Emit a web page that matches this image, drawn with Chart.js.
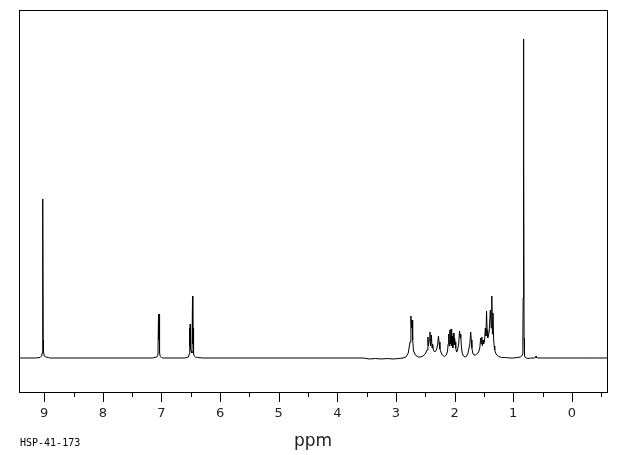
<!DOCTYPE html>
<html>
<head>
<meta charset="utf-8">
<script src="https://cdn.jsdelivr.net/npm/chart.js@4.4.0/dist/chart.umd.min.js"></script>
<style>
html,body{margin:0;padding:0;background:#fff;}
#wrap{width:620px;height:455px;position:relative;}
</style>
</head>
<body>
<div id="wrap"><canvas id="c" width="620" height="455"></canvas></div>
<script>
// chemical shift (ppm) of each trace vertex
const ppm = [
  9.43, 9.15, 9.07, 9.045, 9.035, 9.028, 9.022, 9.017, 9.012, 9.0, 8.97, 8.93, 8.9,
  7.15, 7.08, 7.06, 7.05, 7.045, 7.04, 7.035, 7.03, 7.02, 7.0, 6.97,
  6.6, 6.54, 6.525, 6.52, 6.515, 6.51, 6.505, 6.495, 6.48, 6.47, 6.465, 6.46, 6.455, 6.45, 6.44, 6.42, 6.38, 6.3,
  3.55, 3.45, 3.35, 3.25, 3.15, 3.05, 2.95, 2.88,
  2.83, 2.79, 2.76, 2.745, 2.735, 2.725, 2.715, 2.70, 2.67, 2.62, 2.58,
  2.54, 2.50, 2.47, 2.455, 2.445, 2.435, 2.42, 2.41, 2.395, 2.385, 2.375, 2.36, 2.34,
  2.31, 2.29, 2.275, 2.265, 2.25, 2.22, 2.19, 2.17,
  2.14, 2.12, 2.11, 2.10, 2.09, 2.08, 2.07, 2.06, 2.05, 2.04, 2.03, 2.02, 2.01, 2.00, 1.99, 1.98, 1.965,
  1.95, 1.93, 1.915, 1.905, 1.895, 1.885, 1.87, 1.85, 1.82, 1.80,
  1.77, 1.74, 1.725, 1.715, 1.705, 1.69, 1.67, 1.64, 1.62,
  1.59, 1.57, 1.555, 1.545, 1.535, 1.525, 1.515, 1.505, 1.49, 1.475, 1.465, 1.455, 1.445, 1.435, 1.425, 1.41,
  1.39, 1.375, 1.365, 1.355, 1.345, 1.335, 1.325, 1.315, 1.30, 1.28, 1.25, 1.2, 1.13, 1.07,
  1.0, 0.92, 0.88, 0.855, 0.84, 0.835, 0.83, 0.826, 0.822, 0.818, 0.814, 0.81, 0.805, 0.795, 0.78, 0.75, 0.7,
  0.64, 0.615, 0.61, 0.605, 0.58, 0.5, 0.3, 0.0, -0.3, -0.6
];
// signal intensity (arbitrary units, baseline = 0)
const intensity = [
  0, 0, 0.5, 2, 5, 20, 159, 18, 6, 2, 1, 0.5, 0,
  0, 1, 3, 44, 18, 44, 16, 5, 1.5, 0.5, 0,
  0, 1, 4, 30, 12, 34, 10, 7, 5, 62, 14, 30, 8, 4, 2, 1, 0.5, 0,
  0, -1, -0.5, -1, -0.5, -1, -0.5, 0,
  1, 5, 16, 42, 30, 38, 18, 7, 3, 1, 1,
  2, 4, 8, 21, 12, 18, 26, 12, 23, 10, 14, 8, 6,
  8, 13, 22, 16, 9, 4, 2, 1.5,
  3, 7, 14, 24, 12, 28, 14, 29, 12, 22, 10, 25, 13, 20, 16, 10, 6,
  8, 14, 27, 20, 24, 12, 5, 2, 1, 1.5,
  5, 14, 26, 18, 10, 5, 3, 3, 4,
  6, 10, 20, 14, 21, 12, 18, 14, 17, 30, 22, 47, 28, 20, 22, 26,
  48, 30, 62, 24, 45, 20, 12, 8, 5, 3, 1.5, 0.5, 0.5, 0,
  0, 0.5, 1, 2, 4, 20, 60, 319, 120, 195, 20, 6, 2, 1, 0, -0.5, 0,
  0, 0.5, 2, 0.5, 0, 0, 0, 0, 0, 0
];
// axis ticks
const majorTicks = [9, 8, 7, 6, 5, 4, 3, 2, 1, 0];
const minorTicks = [9.5, 8.5, 7.5, 6.5, 5.5, 4.5, 3.5, 2.5, 1.5, 0.5, -0.5];
const xLabel = 'ppm';
const sampleId = 'HSP-41-173';

const points = ppm.map((p, i) => ({x: p, y: intensity[i]}));

const framePlugin = {
  id: 'frame',
  afterDraw(chart) {
    const {ctx, chartArea: a, scales} = chart;
    const xs = scales.x;
    ctx.save();
    ctx.strokeStyle = '#000';
    ctx.lineWidth = 1;
    ctx.strokeRect(Math.round(a.left) + 0.5, Math.round(a.top) + 0.5,
                   Math.round(a.right - a.left), Math.round(a.bottom - a.top));
    ctx.beginPath();
    majorTicks.forEach(v => {
      const px = Math.round(xs.getPixelForValue(v)) + 0.5;
      ctx.moveTo(px, a.bottom); ctx.lineTo(px, a.bottom + 10);
    });
    minorTicks.forEach(v => {
      const px = Math.round(xs.getPixelForValue(v)) + 0.5;
      if (px > a.left && px < a.right) { ctx.moveTo(px, a.bottom); ctx.lineTo(px, a.bottom + 5); }
    });
    ctx.stroke();
    ctx.fillStyle = '#000';
    ctx.font = '10px "DejaVu Sans Mono", monospace';
    ctx.textBaseline = 'middle';
    ctx.fillText(sampleId, 20, 443);
    ctx.restore();
  }
};

new Chart(document.getElementById('c'), {
  type: 'line',
  data: {
    datasets: [{
      data: points,
      borderColor: '#000',
      borderWidth: 1,
      pointRadius: 0,
      tension: 0,
      fill: false
    }]
  },
  options: {
    responsive: false,
    animation: false,
    layout: {padding: {left: 19, right: 13, top: 10, bottom: 0}},
    plugins: {legend: {display: false}, tooltip: {enabled: false}},
    scales: {
      x: {
        type: 'linear',
        reverse: true,
        min: -0.6,
        max: 9.43,
        afterBuildTicks(axis) { axis.ticks = majorTicks.map(v => ({value: v})); },
        afterFit(axis) { axis.height = 63; },
        grid: {display: false, drawTicks: false},
        border: {display: false},
        ticks: {
          padding: 14,
          color: '#222',
          font: {family: 'DejaVu Sans', size: 13},
          maxRotation: 0,
          autoSkip: false,
          callback: v => String(v)
        },
        title: {display: true, text: xLabel, color: '#222', font: {family: 'DejaVu Sans', size: 17}, padding: {top: 0, bottom: 3}}
      },
      y: {display: false, min: -34, max: 348}
    }
  },
  plugins: [framePlugin]
});
</script>
</body>
</html>
